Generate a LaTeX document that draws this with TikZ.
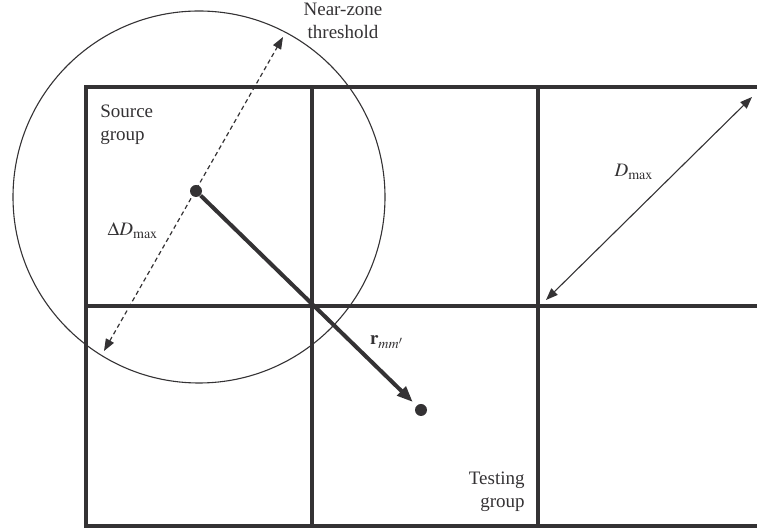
\documentclass[tikz,border=0pt]{standalone}
\usepackage{mathptmx}
\usepackage{fontspec}
\setmainfont{Liberation Serif}
\usepackage{tikz,xcolor}
\usetikzlibrary{arrows.meta}
\definecolor{ink}{RGB}{52,50,52}

\begin{document}
\begin{tikzpicture}[x=0.5pt,y=-0.5pt,
    grid line/.style={draw=ink, line width=2pt},
    dot/.style={circle, fill=ink, inner sep=0pt, minimum size=6pt},
    txt/.style={text=ink, font=\fontsize{9.5}{11.5}\selectfont, inner sep=0pt}]

        \useasboundingbox (0,0) rectangle (757,529);

        % Groups (grid)
        \draw[grid line] (757,87) -- (86,87) -- (86,526) -- (757,526);
        \draw[grid line] (86,306) -- (757,306);
        \draw[grid line] (312,87) -- (312,526);
        \draw[grid line] (538,87) -- (538,526);

        % Near-zone circle
        \draw[ink, line width=0.55pt] (199,197) circle (186);
        \node[txt, align=center] (nz) at (343,21) {Near-zone\\threshold};

        % Source and testing points
        \node[dot] (src) at (196,191) {};
        \node[dot] (tst) at (421,410) {};
        \draw[ink, line width=2pt, -{Triangle[length=8pt,width=6pt]}, shorten >=2.5pt] (src) -- (tst);
        \node[txt] (rmm) at (387,342) {$\mathbf{r}_{mm'}$};

        % Delta D_max across the circle
        \coordinate (dlo) at (104,351);
        \coordinate (dhi) at (283,37);
        \draw[ink, line width=0.6pt, dash pattern=on 2.2pt off 1.6pt,
              {Triangle[length=6pt,width=4.5pt]}-{Triangle[length=6pt,width=4.5pt]}] (dlo) -- (dhi);
        \node[txt] (dd) at (133,231) {$\Delta D_{\mathrm{max}}$};

        % D_max across one group
        \coordinate (mlo) at (546,300);
        \coordinate (mhi) at (752,97);
        \draw[ink, line width=0.55pt,
              {Triangle[length=6pt,width=4.5pt]}-{Triangle[length=6pt,width=4.5pt]}] (mlo) -- (mhi);
        \node[txt] (dm) at (634,172) {$D_{\mathrm{max}}$};

        % Group labels
        \node[txt, align=left, anchor=north west] (sg) at (100,105) {Source\\group};
        \node[txt, align=right, anchor=south east] (tg) at (525,512) {Testing\\group};

    \end{tikzpicture}
\end{document}
